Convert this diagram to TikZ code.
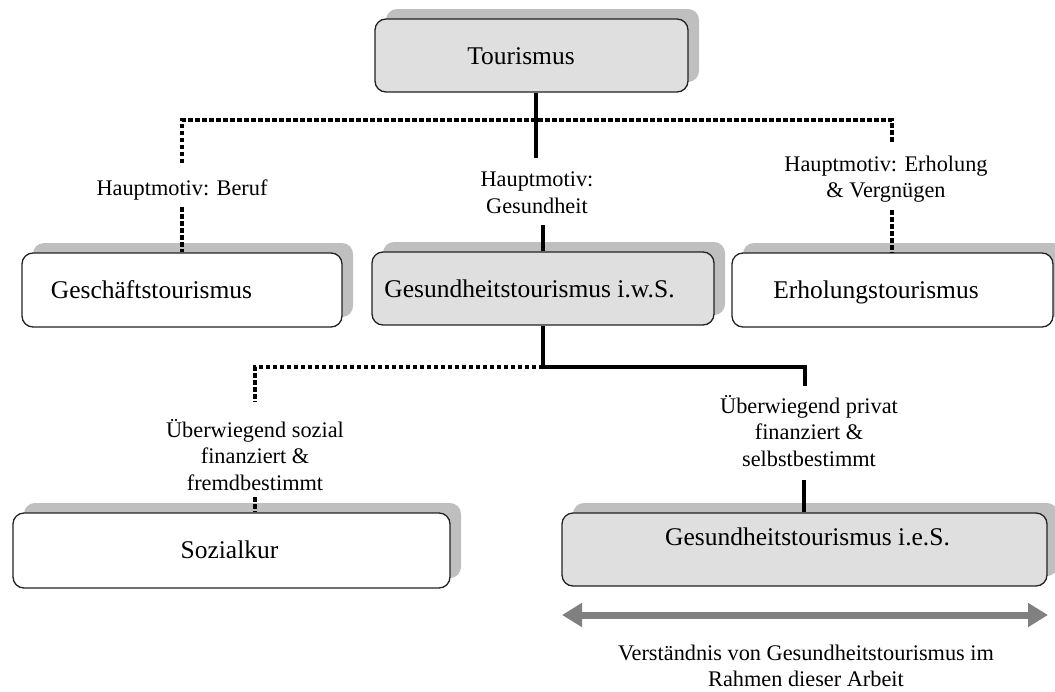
\documentclass[tikz,border=0pt]{standalone}
\usepackage{fontspec}
\setmainfont{Liberation Serif}
\usetikzlibrary{shadows,arrows.meta}
\definecolor{boxgray}{HTML}{DFDFDF}
\definecolor{shadowgray}{HTML}{BFBFBF}
\definecolor{arrowgray}{HTML}{808080}
\definecolor{edgegray}{HTML}{222222}
\newcommand{\boxfont}{\fontsize{25.5}{30}\selectfont}
\newcommand{\lblfont}{\fontsize{22.3}{26.5}\selectfont}
\begin{document}
\begin{tikzpicture}[x=1pt,y=-1pt,
  box/.style={draw=edgegray, line width=1.3pt, rounded corners=11pt, inner sep=0pt,
     general shadow={fill=shadowgray, shadow xshift=11pt, shadow yshift=10pt}},
  graybox/.style={box, fill=boxgray},
  whitebox/.style={box, fill=white},
  boxtext/.style={anchor=base, font=\boxfont, inner sep=0pt},
  lbl/.style={font=\lblfont, align=center, inner sep=0pt},
  solidcon/.style={line width=4pt},
  dotcon/.style={line width=4pt, dash pattern=on 4.5pt off 2.5pt},
  bigarrow/.style={draw=arrowgray, line width=7pt, {Triangle[width=23pt,length=20pt]}-{Triangle[width=23pt,length=20pt]}}
]
\useasboundingbox (0,0) rectangle (1055,691);

% boxes
\node[graybox, minimum width=313pt, minimum height=73pt] (tour) at (531.5,55.5) {};
\node[whitebox, minimum width=320pt, minimum height=74pt] (gesch) at (182,290) {};
\node[graybox, minimum width=342pt, minimum height=73pt] (iws) at (543,288.5) {};
\node[whitebox, minimum width=321pt, minimum height=74pt] (erh) at (892.5,290) {};
\node[whitebox, minimum width=437pt, minimum height=75pt] (soz) at (231.5,550.5) {};
\node[graybox, minimum width=485pt, minimum height=73pt] (ies) at (804.5,549.5) {};

% box texts
\node[boxtext] (tourT) at (521,64) {Tourismus};
\node[boxtext] (geschT) at (151.5,298) {Geschäftstourismus};
\node[boxtext] (iwsT) at (529.5,297) {Gesundheitstourismus i.w.S.};
\node[boxtext] (erhT) at (876,298) {Erholungstourismus};
\node[boxtext] (sozT) at (229.5,558) {Sozialkur};
\node[boxtext] (iesT) at (807.5,545) {Gesundheitstourismus i.e.S.};

% labels
\node[lbl, anchor=base] (lblB) at (182,195) {Hauptmotiv: Beruf};
\node[lbl] (lblG) at (537,192.5) {Hauptmotiv:\\Gesundheit};
\node[lbl] (lblE) at (886,179) {Hauptmotiv: Erholung\\\& Vergnügen};
\node[lbl] (lblS) at (255,455) {Überwiegend sozial\\finanziert \&\\fremdbestimmt};
\node[lbl] (lblP) at (809,431) {Überwiegend privat\\finanziert \&\\selbstbestimmt};
\node[lbl] (note) at (806,666) {Verständnis von Gesundheitstourismus im\\Rahmen dieser Arbeit};

% connector coordinates
\coordinate (j1) at (536,120);
\coordinate (b1) at (182,163); \coordinate (b2) at (182,207);
\coordinate (g1) at (536,158); \coordinate (g2) at (543,225);
\coordinate (e1) at (892,142); \coordinate (e2) at (892,210);
\coordinate (j2) at (543,367);
\coordinate (s1) at (255,402); \coordinate (s2) at (255,497);
\coordinate (p1) at (805,386); \coordinate (p2) at (804,480);
\coordinate (aL) at (562,615); \coordinate (aR) at (1048,615);

% connectors
\draw[dotcon] (b1) -- (b1 |- j1) -- (e1 |- j1) -- (e1);
\draw[dotcon] (b2) -- (gesch.north -| b2);
\draw[dotcon] (e2) -- (erh.north -| e2);
\draw[solidcon] (tour.south -| j1) -- (g1);
\draw[solidcon] (g2) -- (iws.north -| g2);
\draw[dotcon] (j2) -| (s1);
\draw[dotcon] (s2) -- (soz.north -| s2);
\draw[solidcon] (iws.south) -- (j2) -| (p1);
\draw[solidcon] (p2) -- (ies.north -| p2);
\draw[bigarrow] (aL) -- (aR);
\end{tikzpicture}
\end{document}
